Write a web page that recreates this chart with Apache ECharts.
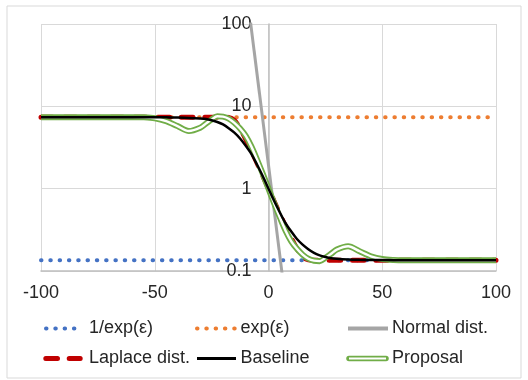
<!DOCTYPE html>
<html>
<head>
<meta charset="utf-8">
<script src="https://cdn.jsdelivr.net/npm/echarts@6/dist/echarts.min.js"></script>
<style>
html,body{margin:0;padding:0;background:#fff;}
#chart{width:528px;height:380px;}
</style>
</head>
<body>
<div id="chart"></div>
<script>
// ---------- data ----------
var xTicks = [-100, -50, 0, 50, 100];
var yTicks = [0.1, 1, 10, 100];
var seriesNames = ['1/exp(ε)', 'exp(ε)', 'Normal dist.', 'Laplace dist.', 'Baseline', 'Proposal'];

var xs = [-100,-90,-80,-70,-60,-55,-50,-45,-40,-35,-30,-27.5,-25,-22.5,-20,-17.5,-15,-12.5,-10,-7.5,-5,-2.5,0,
          2.5,5,7.5,10,12.5,15,17.5,20,22.5,25,27.5,30,35,40,45,50,55,60,70,80,90,100];

var invExpEps = [0.1353,0.1353,0.1353,0.1353,0.1353,0.1353,0.1353,0.1353,0.1353,0.1353,0.1353,0.1353,0.1353,0.1353,0.1353,0.1353,0.1353,0.1353,0.1353,0.1353,0.1353,0.1353,0.1353,
                 0.1353,0.1353,0.1353,0.1353,0.1353,0.1353,0.1353,0.1353,0.1353,0.1353,0.1353,0.1353,0.1353,0.1353,0.1353,0.1353,0.1353,0.1353,0.1353,0.1353,0.1353,0.1353];
var expEps = [7.389,7.389,7.389,7.389,7.389,7.389,7.389,7.389,7.389,7.389,7.389,7.389,7.389,7.389,7.389,7.389,7.389,7.389,7.389,7.389,7.389,7.389,7.389,
              7.389,7.389,7.389,7.389,7.389,7.389,7.389,7.389,7.389,7.389,7.389,7.389,7.389,7.389,7.389,7.389,7.389,7.389,7.389,7.389,7.389,7.389];

var normalX = [-10, 8];
var normalY = [305, 0.0334];

var laplace = [7.389,7.389,7.389,7.389,7.389,7.389,7.389,7.389,7.389,7.389,7.389,7.389,7.389,7.389,7.389,7.33,6.76,5.37,3.98,2.88,2.04,1.43,1.0,
               0.70,0.49,0.347,0.251,0.186,0.148,0.1365,0.1353,0.1353,0.1353,0.1353,0.1353,0.1353,0.1353,0.1353,0.1353,0.1353,0.1353,0.1353,0.1353,0.1353,0.1353];

var baseline = [7.389,7.389,7.389,7.389,7.389,7.38,7.36,7.35,7.31,7.24,7.11,7.00,6.76,6.46,6.03,5.43,4.79,4.07,3.31,2.63,1.95,1.413,1.0,
                0.708,0.513,0.380,0.302,0.245,0.209,0.184,0.166,0.155,0.148,0.143,0.1406,0.138,0.1368,0.1361,0.1358,0.1355,0.1353,0.1353,0.1353,0.1353,0.1353];

var proposal = [7.389,7.389,7.389,7.389,7.389,7.35,7.16,6.61,5.75,5.01,5.50,6.17,6.92,7.59,7.50,7.08,6.31,5.37,4.37,3.24,2.24,1.51,1.0,
                0.661,0.447,0.309,0.229,0.186,0.158,0.141,0.1334,0.1318,0.1445,0.162,0.182,0.1995,0.174,0.151,0.1396,0.1361,0.1353,0.1353,0.1353,0.1353,0.1353];

function pairs(xa, ya){ return xa.map(function(x,i){ return [x, ya[i]]; }); }

// ---------- chart ----------
var FONT = '"Liberation Sans", Arial, sans-serif';
var TXT = '#262626';
var chart = echarts.init(document.getElementById('chart'), null, {renderer:'canvas'});

var dotStyle = function(c){ return {color:c, width:4, type:[0.5, 8.8], cap:'round'}; };

var GRID_L = 41, GRID_R = 32, W = 528;
// y axis sits where x = 0 (half way across the symmetric x range)
var yAxisOffset = -((W - GRID_L - GRID_R) / 2);

var option = {
  animation:false,
  backgroundColor:'#fff',
  grid:{left:GRID_L, right:GRID_R, top:24, bottom:109, containLabel:false, outerBoundsMode:'none'},
  xAxis:{
    type:'value', min:-100, max:100, interval:50,
    axisLine:{show:true, onZero:false, lineStyle:{color:'#bfbfbf', width:1.5}},
    axisTick:{show:false},
    splitLine:{show:true, lineStyle:{color:'#d9d9d9', width:1}},
    axisLabel:{fontSize:18, fontFamily:FONT, color:TXT, margin:13, hideOverlap:false,
      formatter:function(v){ return xTicks.indexOf(v) >= 0 ? String(v) : ''; }}
  },
  yAxis:{
    type:'log', logBase:10, min:0.1, max:100, offset:yAxisOffset,
    axisLine:{show:true, onZero:false, lineStyle:{color:'#bfbfbf', width:1.5}},
    axisTick:{show:false},
    splitLine:{show:true, lineStyle:{color:'#d9d9d9', width:1}},
    axisLabel:{fontSize:18, fontFamily:FONT, color:TXT, margin:17, hideOverlap:false,
      formatter:function(v){ var r = yTicks.filter(function(t){return Math.abs(t-v)/t < 1e-6;}); return r.length ? String(r[0]) : ''; }}
  },
  series:[
    {name:seriesNames[0], type:'line', data:pairs(xs, invExpEps), showSymbol:false, symbol:'none', lineStyle:dotStyle('#4472C4')},
    {name:seriesNames[1], type:'line', data:pairs(xs, expEps), showSymbol:false, symbol:'none', lineStyle:dotStyle('#ED7D31')},
    {name:seriesNames[2], type:'line', data:pairs(normalX, normalY), showSymbol:false, symbol:'none', lineStyle:{color:'#A5A5A5', width:3}},
    {name:seriesNames[3], type:'line', data:pairs(xs, laplace), showSymbol:false, symbol:'none', smooth:0.3,
      lineStyle:{color:'#C00000', width:5, type:[11.7, 11.7], cap:'round'}},
    {name:seriesNames[5], type:'line', data:pairs(xs, proposal), showSymbol:false, symbol:'none', smooth:0.3,
      lineStyle:{color:'#70AD47', width:6}},
    {name:seriesNames[5] + ' ', type:'line', data:pairs(xs, proposal), showSymbol:false, symbol:'none', smooth:0.3,
      lineStyle:{color:'#ffffff', width:2.4}},
    {name:seriesNames[4], type:'line', data:pairs(xs, baseline), showSymbol:false, symbol:'none', smooth:0.3,
      lineStyle:{color:'#000000', width:2.5}}
  ],
  graphic:[
    {type:'rect', shape:{x:7, y:6, width:514, height:372}, style:{fill:'none', stroke:'#d9d9d9', lineWidth:1}, silent:true},
    // legend row 1
    {type:'line', shape:{x1:46, y1:328.5, x2:83, y2:328.5}, style:{stroke:'#4472C4', lineWidth:4, lineDash:[0.5, 8.8], lineCap:'round'}},
    {type:'text', x:89, y:328.5, style:{text:seriesNames[0], font:'18px ' + FONT, fill:TXT, verticalAlign:'middle'}},
    {type:'line', shape:{x1:197, y1:328.5, x2:236, y2:328.5}, style:{stroke:'#ED7D31', lineWidth:4, lineDash:[0.5, 8.8], lineCap:'round'}},
    {type:'text', x:240.5, y:328.5, style:{text:seriesNames[1], font:'18px ' + FONT, fill:TXT, verticalAlign:'middle'}},
    {type:'line', shape:{x1:348, y1:328.5, x2:388, y2:328.5}, style:{stroke:'#A5A5A5', lineWidth:4}},
    {type:'text', x:392, y:328.5, style:{text:seriesNames[2], font:'18px ' + FONT, fill:TXT, verticalAlign:'middle'}},
    // legend row 2
    {type:'line', shape:{x1:45.8, y1:358.5, x2:80.2, y2:358.5}, style:{stroke:'#C00000', lineWidth:5, lineDash:[11.7, 11.7], lineCap:'round'}},
    {type:'text', x:89, y:358.5, style:{text:seriesNames[3], font:'18px ' + FONT, fill:TXT, verticalAlign:'middle'}},
    {type:'line', shape:{x1:197, y1:358.5, x2:236, y2:358.5}, style:{stroke:'#000', lineWidth:3}},
    {type:'text', x:240.5, y:358.5, style:{text:seriesNames[4], font:'18px ' + FONT, fill:TXT, verticalAlign:'middle'}},
    {type:'line', shape:{x1:349, y1:358.5, x2:386, y2:358.5}, style:{stroke:'#70AD47', lineWidth:5.5, lineCap:'round'}},
    {type:'line', shape:{x1:349, y1:358.5, x2:386, y2:358.5}, style:{stroke:'#fff', lineWidth:2.2, lineCap:'butt'}},
    {type:'text', x:392, y:358.5, style:{text:seriesNames[5], font:'18px ' + FONT, fill:TXT, verticalAlign:'middle'}}
  ]
};
chart.setOption(option);
</script>
</body>
</html>
